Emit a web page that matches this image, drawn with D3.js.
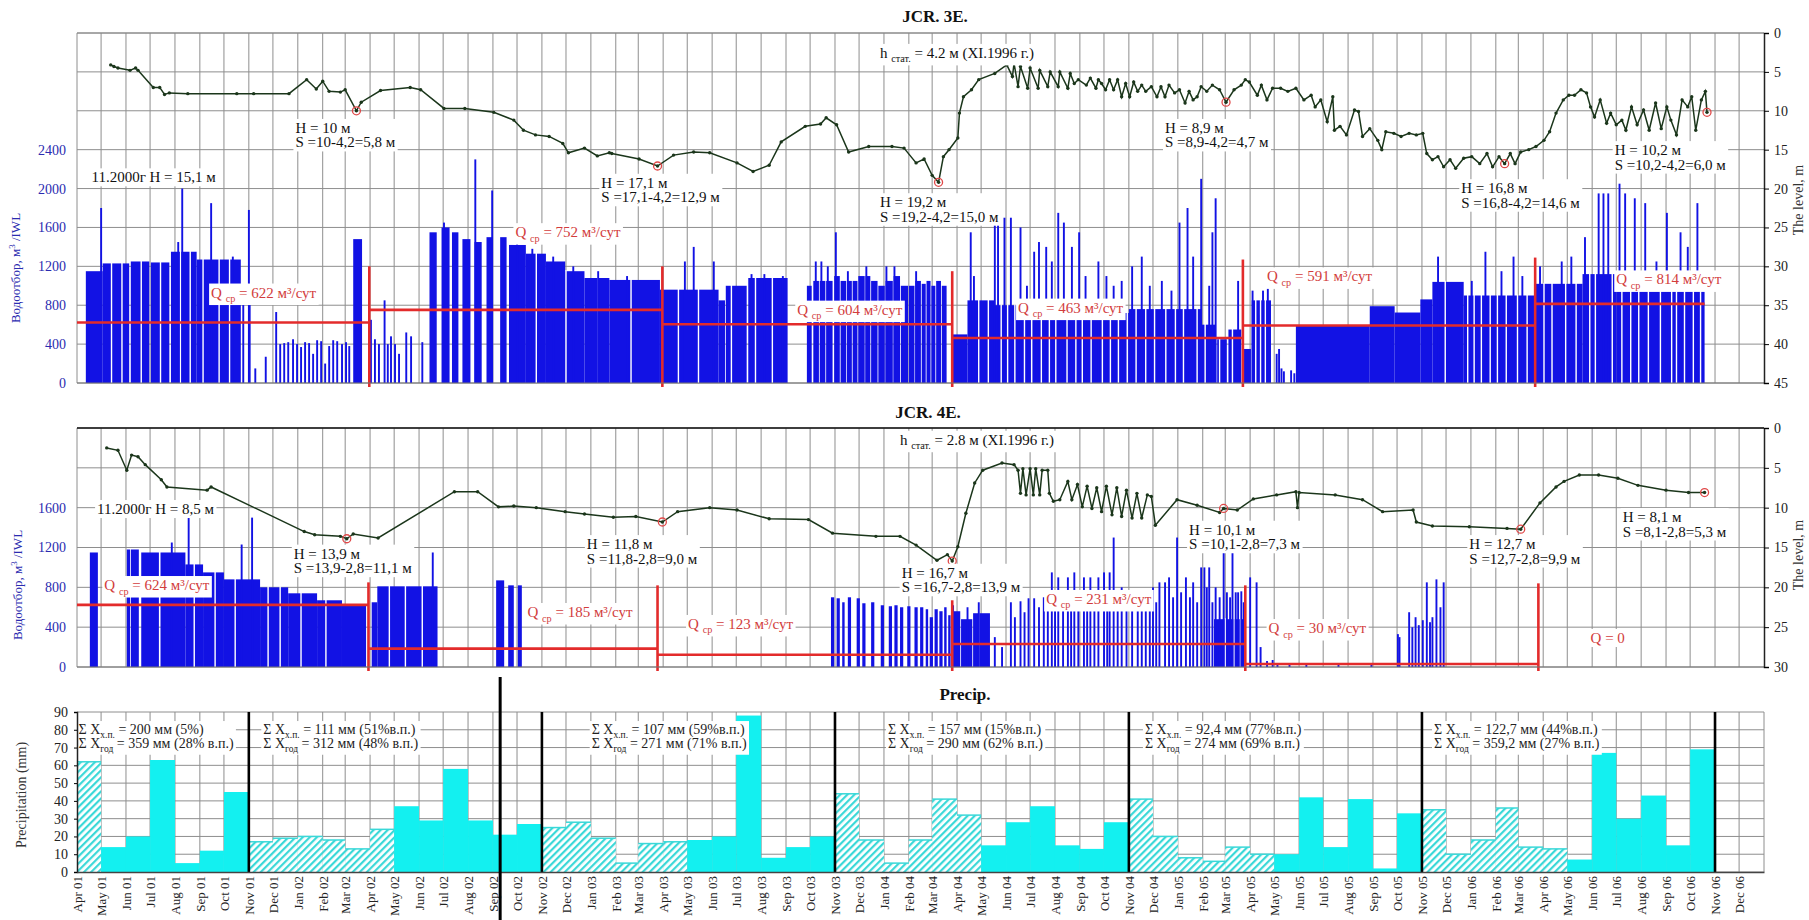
<!DOCTYPE html>
<html>
<head>
<meta charset="utf-8">
<script src="https://cdn.jsdelivr.net/npm/d3@7"></script>
<style>
  body { margin: 0; background: #fff; }
  svg { display: block; font-family: "Liberation Serif", "Times New Roman", serif; }
</style>
</head>
<body>
<svg id="chart" width="1809" height="920"></svg>
<script>
// ---------------- Well JCR. 3E : daily withdrawal, m3/day ----------------
const wd3E_blocks = [
  ["2001-04-12","2001-05-03",1150],["2001-05-03","2001-06-05",1230],["2001-06-07","2001-06-30",1250],
  ["2001-07-02","2001-07-25",1240],["2001-07-27","2001-08-28",1350],["2001-08-28","2001-10-22",1270],
  ["2002-03-11","2002-03-22",1480],
  ["2002-06-14","2002-06-23",1550],["2002-06-29","2002-07-09",1600],["2002-07-12","2002-07-20",1550],
  ["2002-07-25","2002-08-04",1480],["2002-08-09","2002-08-18",1450],["2002-08-24","2002-09-01",1500],
  ["2002-09-10","2002-09-18",1500],["2002-09-21","2002-10-12",1420],["2002-10-12","2002-11-06",1330],
  ["2002-11-06","2002-11-30",1250],["2002-11-30","2002-12-24",1150],["2002-12-24","2003-01-24",1080],
  ["2003-01-24","2003-03-28",1060],["2003-03-28","2003-06-09",960],["2003-06-09","2003-06-17",850],
  ["2003-06-18","2003-07-14",1000],["2003-07-16","2003-09-03",1080],
  ["2003-09-27","2003-10-03",1000],["2003-10-05","2003-10-12",1050],["2003-10-13","2003-10-20",1050],
  ["2003-10-21","2003-10-29",1050],["2003-10-31","2003-11-07",1100],["2003-11-08","2003-11-15",1050],
  ["2003-11-16","2003-11-22",1050],["2003-11-23","2003-11-29",1050],["2003-11-30","2003-12-08",1100],
  ["2003-12-09","2003-12-15",1100],["2003-12-16","2003-12-24",1050],["2003-12-25","2004-01-02",1000],
  ["2004-01-03","2004-01-12",1050],["2004-01-13","2004-01-21",1100],["2004-01-22","2004-01-31",1000],
  ["2004-02-01","2004-02-08",1000],["2004-02-09","2004-02-16",1050],["2004-02-17","2004-02-22",1020],
  ["2004-02-23","2004-02-28",1050],["2004-02-29","2004-03-05",1000],["2004-03-06","2004-03-12",1050],
  ["2004-03-13","2004-03-19",1000],
  ["2004-03-25","2004-04-14",500],["2004-04-14","2004-05-18",850],["2004-05-18","2004-07-01",800],
  ["2004-07-01","2004-09-01",760],["2004-09-01","2004-11-01",720],["2004-11-01","2005-01-30",760],
  ["2005-01-30","2005-02-17",600],["2005-02-19","2005-03-03",450],["2005-03-05","2005-03-21",550],
  ["2005-03-23","2005-04-02",350],["2005-04-03","2005-04-27",850],
  ["2005-05-28","2005-08-28",590],["2005-08-28","2005-09-28",790],["2005-09-28","2005-10-30",725],
  ["2005-10-30","2005-11-14",860],["2005-11-14","2005-12-23",1040],["2005-12-23","2006-03-21",900],
  ["2006-03-22","2006-05-20",1020],["2006-05-20","2006-07-01",1120],["2006-07-01","2006-09-01",1150],
  ["2006-09-01","2006-10-19",1050]
];
const wd3E_spikes = [
  ["2001-05-01",1800],["2001-08-05",1450],["2001-08-10",2000],["2001-09-15",1850],["2001-10-12",1300],
  ["2001-10-25",850],["2001-11-01",1780],["2001-11-02",850],["2001-11-09",150],["2001-11-22",270],
  ["2001-12-05",730],["2001-12-10",400],["2001-12-15",410],["2001-12-20",420],["2001-12-26",450],
  ["2001-12-31",400],["2002-01-05",370],["2002-01-10",420],["2002-01-15",410],["2002-01-20",300],
  ["2002-01-25",440],["2002-01-30",430],["2002-02-04",200],["2002-02-09",380],["2002-02-14",440],
  ["2002-02-19",430],["2002-02-25",400],["2002-03-02",420],["2002-03-06",380],
  ["2002-04-02",650],["2002-04-07",450],["2002-04-12",400],["2002-04-19",850],["2002-04-23",400],
  ["2002-04-27",480],["2002-05-02",400],["2002-05-07",300],["2002-05-16",520],["2002-05-22",480],
  ["2002-06-05",420],["2002-07-02",1650],["2002-08-10",2300],["2002-08-31",1980],
  ["2002-10-01",1450],["2002-10-20",1380],["2002-11-15",1300],["2002-12-10",1200],["2003-01-10",1150],
  ["2003-02-15",1100],["2003-04-28",1250],["2003-05-09",1400],["2003-06-03",1250],["2003-07-20",1120],
  ["2003-08-05",1120],["2003-08-28",1100],
  ["2003-10-08",1250],["2003-10-15",1250],["2003-10-23",1200],["2003-11-02",1550],["2003-11-17",1150],
  ["2003-12-10",1200],["2004-01-04",1200],["2004-01-14",1200],["2004-02-10",1150],
  ["2004-04-18",1550],["2004-04-22",1100],["2004-05-18",1700],["2004-05-22",1700],["2004-05-30",1700],
  ["2004-06-07",1700],["2004-06-19",1600],["2004-06-27",1000],["2004-07-06",1350],["2004-07-12",1450],
  ["2004-07-21",1400],["2004-07-28",1250],["2004-08-05",1750],["2004-08-12",1650],["2004-08-22",1400],
  ["2004-08-31",1550],["2004-09-08",1100],["2004-09-24",1250],["2004-10-04",1100],["2004-10-13",1000],
  ["2004-10-23",1050],["2004-11-05",1200],["2004-11-17",1300],["2004-11-27",1000],["2004-12-12",1050],
  ["2004-12-24",950],["2005-01-03",1650],["2005-01-13",1800],["2005-01-20",1300],["2005-01-30",2100],
  ["2005-02-09",1000],["2005-02-13",1550],["2005-02-17",1900],["2005-03-17",1050],
  ["2005-04-04",950],["2005-04-11",700],["2005-04-17",950],["2005-04-23",980],["2005-05-04",300],
  ["2005-05-07",350],["2005-05-10",150],["2005-05-13",120],["2005-05-22",130],["2005-05-26",100],
  ["2005-11-21",1300],["2006-01-02",1050],["2006-01-19",1350],["2006-02-08",1150],["2006-02-23",1300],
  ["2006-03-06",1100],["2006-03-28",1200],["2006-04-24",1250],["2006-05-06",1300],["2006-05-23",1500],
  ["2006-06-09",1950],["2006-06-15",1950],["2006-06-21",1950],["2006-07-05",2050],["2006-07-12",1950],
  ["2006-07-24",1900],["2006-08-06",1850],["2006-08-20",1250],["2006-09-02",1750],["2006-09-19",1550],
  ["2006-09-28",1400],["2006-10-10",1850]
];
const wd3E_gaps = [
  "2001-05-14","2001-05-27","2001-06-20","2001-07-14","2001-08-08","2001-08-20","2001-09-05","2001-09-25",
  "2001-10-08","2002-10-25","2002-12-01","2003-01-10","2003-02-20","2003-04-20","2003-05-15","2003-06-25",
  "2003-07-25","2003-08-15","2004-04-28","2004-05-10","2004-05-26","2004-06-03","2004-06-12","2004-06-24",
  "2004-07-03","2004-07-15","2004-07-25","2004-08-02","2004-08-16","2004-08-27","2004-09-04","2004-09-15",
  "2004-09-29","2004-10-09","2004-10-19","2004-10-30","2004-11-10","2004-11-22","2004-12-03","2004-12-17",
  "2004-12-29","2005-01-08","2005-01-25","2005-02-04","2005-02-22","2005-03-10","2005-04-08","2005-04-14",
  "2005-04-20","2005-11-30","2005-12-28","2006-01-05","2006-01-14","2006-01-25","2006-02-03","2006-02-14",
  "2006-02-28","2006-03-12","2006-04-02","2006-04-12","2006-04-29","2006-05-12","2006-05-29","2006-06-05",
  "2006-06-26","2006-07-08","2006-07-19","2006-07-29","2006-08-10","2006-08-25","2006-09-08","2006-09-14",
  "2006-09-24","2006-10-05","2006-10-14"
];
// yearly mean withdrawal, m3/day
const q3E_segments = [
  ["2001-04-01","2002-03-31",622],["2002-03-31","2003-03-31",752],["2003-03-31","2004-03-26",604],
  ["2004-03-26","2005-03-23",463],["2005-03-23","2006-03-22",591],["2006-03-22","2006-10-19",814]
];
const q3E_bounds = [["2002-03-31",1200],["2003-03-31",1200],["2004-03-26",1150],["2005-03-23",1270],["2006-03-22",1290]];
// water level, m below surface
const level3E = [
  ["2001-05-13",4.1],["2001-05-17",4.3],["2001-05-22",4.5],["2001-06-06",4.8],["2001-06-13",4.5],
  ["2001-06-16",4.8],["2001-07-05",7.0],["2001-07-13",7.0],["2001-07-19",7.9],["2001-07-25",7.7],
  ["2001-08-17",7.8],["2001-10-17",7.8],["2001-11-07",7.8],["2001-12-21",7.8],["2002-01-12",6.0],
  ["2002-01-24",7.2],["2002-02-01",6.2],["2002-02-09",7.5],["2002-02-23",7.6],["2002-03-01",7.3],
  ["2002-03-15",10.0],["2002-03-21",8.9],["2002-04-14",7.4],["2002-05-21",7.0],["2002-06-03",7.3],
  ["2002-07-02",9.7],["2002-07-28",9.7],["2002-09-02",10.2],["2002-09-27",11.2],["2002-10-09",12.5],
  ["2002-10-24",13.1],["2002-11-10",13.3],["2002-11-27",14.2],["2002-12-04",15.4],["2002-12-24",14.8],
  ["2003-01-09",15.8],["2003-01-24",15.4],["2003-01-27",15.5],["2003-03-02",16.2],["2003-03-25",17.1],
  ["2003-04-14",15.7],["2003-05-09",15.3],["2003-05-29",15.4],["2003-07-02",16.7],["2003-07-22",17.8],
  ["2003-08-11",17.0],["2003-08-26",14.0],["2003-09-25",12.0],["2003-10-14",11.7],["2003-10-21",10.9],
  ["2003-11-03",11.8],["2003-11-18",15.3],["2003-12-13",14.6],["2004-01-11",14.6],["2004-01-26",14.8],
  ["2004-02-10",16.7],["2004-02-20",16.2],["2004-03-01",18.3],["2004-03-09",19.2],["2004-03-15",15.9],
  ["2004-03-22",15.0],["2004-04-02",13.5],["2004-04-04",10.3],["2004-04-09",8.2],["2004-04-19",7.3],
  ["2004-04-28",6.0],["2004-05-18",5.2],["2004-06-02",4.1],["2004-06-09",5.6],["2004-06-11",3.9],
  ["2004-06-16",6.9],["2004-06-19",4.3],["2004-06-28",7.1],["2004-07-01",4.5],["2004-07-11",7.1],
  ["2004-07-13",4.8],["2004-07-23",6.9],["2004-07-26",5.0],["2004-08-05",6.9],["2004-08-07",5.0],
  ["2004-08-17",7.1],["2004-08-20",5.2],["2004-08-25",6.5],["2004-08-30",6.0],["2004-09-09",6.7],
  ["2004-09-14",5.8],["2004-09-21",7.1],["2004-09-24",6.0],["2004-09-28",6.5],["2004-10-03",7.3],
  ["2004-10-08",6.0],["2004-10-13",7.3],["2004-10-18",6.0],["2004-10-23",8.2],["2004-10-28",6.5],
  ["2004-11-02",8.2],["2004-11-07",6.3],["2004-11-12",7.5],["2004-11-17",6.7],["2004-11-22",7.5],
  ["2004-11-29",6.9],["2004-12-06",8.2],["2004-12-11",6.9],["2004-12-16",8.2],["2004-12-21",6.7],
  ["2004-12-28",7.7],["2005-01-03",7.3],["2005-01-10",9.0],["2005-01-15",7.5],["2005-01-20",8.6],
  ["2005-01-25",8.2],["2005-01-30",6.9],["2005-02-06",7.5],["2005-02-13",6.7],["2005-02-22",7.3],
  ["2005-03-02",8.9],["2005-03-12",7.3],["2005-03-21",6.7],["2005-03-26",6.0],["2005-03-31",6.3],
  ["2005-04-10",8.0],["2005-04-15",6.7],["2005-04-22",8.6],["2005-04-29",7.1],["2005-05-09",7.1],
  ["2005-05-18",7.5],["2005-05-28",7.1],["2005-06-07",8.6],["2005-06-16",8.0],["2005-06-21",9.5],
  ["2005-06-28",8.6],["2005-07-06",11.4],["2005-07-13",8.2],["2005-07-15",12.5],["2005-07-22",12.0],
  ["2005-07-30",13.1],["2005-08-09",9.9],["2005-08-14",10.1],["2005-08-19",13.3],["2005-08-28",12.3],
  ["2005-09-07",13.8],["2005-09-12",15.0],["2005-09-17",12.7],["2005-09-27",12.9],["2005-10-06",13.3],
  ["2005-10-16",12.9],["2005-10-25",13.1],["2005-11-02",12.9],["2005-11-07",15.5],["2005-11-14",16.3],
  ["2005-11-21",15.9],["2005-11-28",17.2],["2005-12-06",16.3],["2005-12-13",17.4],["2005-12-23",16.1],
  ["2006-01-02",15.9],["2006-01-12",16.8],["2006-01-21",15.5],["2006-01-28",17.2],["2006-02-05",15.9],
  ["2006-02-12",16.8],["2006-02-19",15.5],["2006-02-25",16.8],["2006-03-04",15.3],["2006-03-14",15.0],
  ["2006-03-23",14.6],["2006-04-02",13.8],["2006-04-09",12.7],["2006-04-17",10.3],["2006-04-26",8.6],
  ["2006-05-03",8.0],["2006-05-10",8.0],["2006-05-18",7.3],["2006-05-25",7.7],["2006-05-30",9.5],
  ["2006-06-04",10.8],["2006-06-11",8.6],["2006-06-19",11.6],["2006-06-24",10.3],["2006-07-01",11.8],
  ["2006-07-08",11.2],["2006-07-13",12.5],["2006-07-20",9.5],["2006-07-27",11.8],["2006-08-04",9.9],
  ["2006-08-11",12.5],["2006-08-19",9.0],["2006-08-26",12.3],["2006-09-02",9.5],["2006-09-07",11.2],
  ["2006-09-14",13.1],["2006-09-21",8.6],["2006-09-28",9.5],["2006-10-03",8.2],["2006-10-08",12.5],
  ["2006-10-15",8.6],["2006-10-20",7.5],["2006-10-22",10.2]
];
// seasonal minimum levels and the drawdown written under each
const min3E = [["2002-03-15",10.0],["2003-03-25",17.1],["2004-03-09",19.2],["2005-03-02",8.9],["2006-02-12",16.8],["2006-10-22",10.2]];
const min3E_S = ["S =10-4,2=5,8 м","S =17,1-4,2=12,9 м","S =19,2-4,2=15,0 м","S =8,9-4,2=4,7 м","S =16,8-4,2=14,6 м","S =10,2-4,2=6,0 м"];

// ---------------- Well JCR. 4E ----------------
const wd4E_blocks = [
  ["2001-04-17","2001-04-27",1150],["2001-06-02","2001-06-06",1180],["2001-06-07","2001-06-17",1180],
  ["2001-06-20","2001-07-12",1150],["2001-07-14","2001-08-14",1150],["2001-08-14","2001-09-05",1030],
  ["2001-09-05","2001-10-01",950],["2001-10-01","2001-11-15",880],["2001-11-15","2001-12-20",800],
  ["2001-12-20","2002-01-25",740],["2002-01-25","2002-02-25",670],["2002-02-25","2002-03-27",620],
  ["2002-04-03","2002-04-10",650],["2002-04-10","2002-06-24",810],
  ["2002-09-05","2002-09-15",870],["2002-09-20","2002-09-27",820],["2002-10-02","2002-10-07",820],
  ["2003-10-27","2003-10-31",700],["2003-11-03","2003-11-07",690],["2003-11-10","2003-11-13",650],
  ["2003-11-17","2003-11-21",700],["2003-11-28","2003-12-02",690],["2003-12-05","2003-12-09",640],
  ["2003-12-16","2003-12-20",650],["2003-12-28","2004-01-01",620],["2004-01-07","2004-01-11",610],
  ["2004-01-14","2004-01-18",620],["2004-01-21","2004-01-25",600],["2004-01-30","2004-02-03",610],
  ["2004-02-08","2004-02-12",600],["2004-02-15","2004-02-19",600],["2004-02-22","2004-02-25",580],
  ["2004-02-27","2004-03-02",500],["2004-03-04","2004-03-08",580],["2004-03-10","2004-03-14",560],
  ["2004-03-16","2004-03-19",600],["2004-03-21","2004-03-24",520],
  ["2004-03-25","2004-04-05",560],["2004-04-06","2004-04-20",480],["2004-04-21","2004-05-12",540],
  ["2005-02-15","2005-03-25",480]
];
const wd4E_spikes = [
  ["2001-07-28",1250],["2001-08-18",1500],["2001-10-23",1230],["2001-11-05",1500],["2002-06-18",1150],
  ["2004-03-27",620],["2004-04-14",600],["2004-04-28",650],
  ["2004-05-18",300],["2004-05-27",200],["2004-06-07",650],["2004-06-12",500],["2004-06-19",660],
  ["2004-06-24",550],["2004-06-29",690],["2004-07-06",690],["2004-07-12",600],["2004-07-18",700],
  ["2004-07-23",650],["2004-07-28",950],["2004-08-01",700],["2004-08-05",900],["2004-08-11",700],
  ["2004-08-17",900],["2004-08-21",650],["2004-08-25",950],["2004-08-30",700],["2004-09-06",900],
  ["2004-09-10",650],["2004-09-14",900],["2004-09-19",700],["2004-09-24",900],["2004-10-01",950],
  ["2004-10-05",700],["2004-10-08",950],["2004-10-13",1300],["2004-10-18",650],["2004-10-23",800],
  ["2004-10-29",600],["2004-11-05",700],["2004-11-12",750],["2004-11-17",600],["2004-11-22",700],
  ["2004-11-27",600],["2004-12-01",800],["2004-12-05",650],["2004-12-09",850],["2004-12-16",850],
  ["2004-12-21",900],["2004-12-26",700],["2004-12-31",1300],["2005-01-05",750],["2005-01-11",900],
  ["2005-01-16",700],["2005-01-20",850],["2005-01-25",650],["2005-01-30",1000],["2005-02-03",1000],
  ["2005-02-06",800],["2005-02-09",1000],["2005-02-13",650],["2005-02-17",800],["2005-02-22",700],
  ["2005-02-27",1350],["2005-03-03",750],["2005-03-07",700],["2005-03-10",1400],["2005-03-14",750],
  ["2005-03-17",750],["2005-03-21",760],["2005-03-24",650],["2005-04-01",900],["2005-04-09",850],
  ["2005-04-14",200],["2005-04-22",60],["2005-04-29",70],["2005-05-05",40],["2005-05-20",30],
  ["2005-06-10",40],["2005-07-20",30],["2005-08-30",40],["2005-10-02",330],["2005-10-04",300],
  ["2005-10-16",550],["2005-10-20",400],["2005-10-24",500],["2005-10-28",420],["2005-11-02",470],
  ["2005-11-07",850],["2005-11-11",450],["2005-11-14",500],["2005-11-19",880],["2005-11-24",600],
  ["2005-11-28",850]
];
const wd4E_gaps = [
  "2001-06-18","2001-07-13","2001-08-25","2001-09-20","2001-10-15","2001-11-25","2001-12-10","2002-01-05",
  "2002-02-05","2002-04-25","2002-05-15","2002-06-05","2004-04-28","2005-03-01","2005-03-12","2005-03-20"
];
const q4E_segments = [
  ["2001-04-01","2002-03-30",624],["2002-03-30","2003-03-25",185],["2003-03-25","2004-03-26",123],
  ["2004-03-26","2005-03-26",231],["2005-03-26","2006-03-26",30],["2006-03-26","2006-10-19",0]
];
const q4E_bounds = [["2002-03-30",850],["2003-03-25",820],["2004-03-26",670],["2005-03-26",820],["2006-03-26",840]];
const level4E = [
  ["2001-05-08",2.5],["2001-05-22",2.8],["2001-06-02",5.3],["2001-06-08",3.4],["2001-06-16",3.6],
  ["2001-06-25",4.6],["2001-07-15",6.5],["2001-07-22",7.4],["2001-09-10",7.8],["2001-09-15",7.4],
  ["2002-01-09",13.0],["2002-01-22",13.4],["2002-02-23",13.6],["2002-03-03",13.9],["2002-03-11",13.3],
  ["2002-04-11",13.8],["2002-07-15",8.0],["2002-08-13",8.0],["2002-09-08",9.9],["2002-09-27",9.8],
  ["2002-10-25",10.0],["2002-11-30",10.5],["2002-12-24",10.8],["2003-01-29",11.2],["2003-02-26",11.1],
  ["2003-03-31",11.8],["2003-04-19",10.5],["2003-05-29",10.0],["2003-07-02",10.3],["2003-08-11",11.4],
  ["2003-09-29",11.5],["2003-10-29",13.2],["2003-12-22",13.6],["2004-01-21",13.6],["2004-02-10",14.7],
  ["2004-03-07",16.6],["2004-03-20",15.9],["2004-03-26",16.7],["2004-04-02",14.9],["2004-04-12",10.7],
  ["2004-04-23",6.9],["2004-05-03",5.3],["2004-05-27",4.4],["2004-06-11",4.6],["2004-06-16",5.3],
  ["2004-06-19",8.2],["2004-06-22",5.1],["2004-06-26",8.4],["2004-07-01",5.1],["2004-07-05",8.4],
  ["2004-07-08",5.1],["2004-07-13",8.4],["2004-07-16",5.3],["2004-07-23",5.3],["2004-07-25",8.2],
  ["2004-07-30",9.2],["2004-08-07",9.0],["2004-08-17",6.7],["2004-08-22",9.0],["2004-08-29",7.1],
  ["2004-09-04",9.9],["2004-09-10",7.3],["2004-09-16",10.1],["2004-09-22",7.5],["2004-09-28",10.5],
  ["2004-10-04",7.3],["2004-10-11",10.9],["2004-10-17",7.5],["2004-10-23",11.1],["2004-10-29",7.8],
  ["2004-11-05",11.3],["2004-11-11",8.2],["2004-11-17",11.3],["2004-11-24",8.4],["2004-11-29",8.6],
  ["2004-12-04",12.2],["2004-12-31",9.0],["2005-01-25",9.7],["2005-02-22",10.6],["2005-02-27",10.1],
  ["2005-03-16",10.3],["2005-04-05",8.9],["2005-05-04",8.4],["2005-05-28",8.0],["2005-05-30",10.0],
  ["2005-06-01",8.1],["2005-07-16",8.4],["2005-08-19",9.0],["2005-09-13",10.5],["2005-10-21",10.3],
  ["2005-10-25",11.8],["2005-11-14",12.3],["2005-12-30",12.4],["2006-02-15",12.6],["2006-03-04",12.7],
  ["2006-03-28",9.4],["2006-04-17",7.4],["2006-04-27",6.7],["2006-05-16",5.9],["2006-06-09",5.9],
  ["2006-07-03",6.3],["2006-07-28",7.2],["2006-09-01",7.8],["2006-09-29",8.1],["2006-10-19",8.1]
];
const min4E = [["2002-03-03",13.9],["2003-03-31",11.8],["2004-03-26",16.7],["2005-02-27",10.1],["2006-03-04",12.7],["2006-10-19",8.1]];
const min4E_S = ["S =13,9-2,8=11,1 м","S =11,8-2,8=9,0 м","S =16,7-2,8=13,9 м","S =10,1-2,8=7,3 м","S =12,7-2,8=9,9 м","S =8,1-2,8=5,3 м"];

// ---------------- Monthly precipitation, mm (Apr 2001 .. Oct 2006) ----------------
const precipValues = [
  62,14,20,63,5,12,45,
  17,19,20,18,13,24,37,29,58,29,21,27,
  25,28,19,5,16,17,18,20,88,8,14,20,
  44,18,5,18,41,32,15,28,37,15,13,28,
  41,20,8,6,14,10,10,42,14,41,2,33,
  35,10,18,36,14,13,7,67,30,43,15,69
];
const precipSums = [
  ["Σ X_{х.п.} = 200 мм (5%)","Σ X_{год} = 359 мм (28% в.п.)"],
  ["Σ X_{х.п.} = 111 мм (51%в.п.)","Σ X_{год} = 312 мм (48% в.п.)"],
  ["Σ X_{х.п.} = 107 мм (59%в.п.)","Σ X_{год} = 271 мм (71% в.п.)"],
  ["Σ X_{х.п.} = 157 мм (15%в.п.)","Σ X_{год} = 290 мм (62% в.п.)"],
  ["Σ X_{х.п.} = 92,4 мм (77%в.п.)","Σ X_{год} = 274 мм (69% в.п.)"],
  ["Σ X_{х.п.} = 122,7 мм (44%в.п.)","Σ X_{год} = 359,2 мм (27% в.п.)"]
];
const hydroYearStarts = ["2001-11-01","2002-11-01","2003-11-01","2004-11-01","2005-11-01","2006-11-01"];
const sheetJoins = ["2002-09-10"];

// tick values
const wdTicks3E = [0,400,800,1200,1600,2000,2400];
const wdTicks4E = [0,400,800,1200,1600];
const lvTicks3E = [0,5,10,15,20,25,30,35,40,45];
const lvTicks4E = [0,5,10,15,20,25,30];
const precipTicks = [0,10,20,30,40,50,60,70,80,90];

// ---------------- label placement (data coordinates) ----------------
const minLabelAt3E = [["2001-12-29",12.85],["2003-01-14",19.9],["2003-12-27",22.4],["2004-12-16",12.85],["2005-12-20",20.6],["2006-06-29",15.7]];
const minLabelAt4E = [["2001-12-27",16.4],["2002-12-27",15.2],["2004-01-23",18.8],["2005-01-15",13.4],["2005-12-30",15.2],["2006-07-09",11.8]];
const qLabelAt3E = [["2001-09-15",879],["2002-09-29",1500],["2003-09-15",703],["2004-06-16",724],["2005-04-22",1045],["2006-07-01",1014]];
const qLabelAt4E = [["2001-05-05",773],["2002-10-14",502],["2003-05-02",382],["2004-07-21",633],["2005-04-24",341],["2006-05-30",241]];
const precipSumAt = [["2001-04-03",77.6],["2001-11-19",77.6],["2003-01-02",77.6],["2004-01-06",77.6],["2004-11-21",77.6],["2005-11-16",77.6]];

// =====================================================================
const parse = d3.timeParse("%Y-%m-%d");
const svg = d3.select("#chart");
const BLUE = "#1212e4", RED = "#e32b2b", QTEXT = "#d23c3c", LEVEL = "#1b361b", GRID = "#8e8e8e";
const x = d3.scaleTime().domain([new Date(2001,3,1), new Date(2007,0,1)]).range([77,1764]);
const X0 = x.range()[0], X1 = x.range()[1];
const gridMonths = d3.timeMonth.range(new Date(2001,4,1), new Date(2007,0,1));
const fmtNum = v => (Number.isInteger(v) ? String(v) : v.toFixed(1).replace(".", ","));

// text with _{subscript} parts
function richLine(g, px, py, str, size, color) {
  const t = g.append("text").attr("x", px).attr("y", py).attr("font-size", size).attr("fill", color);
  const parts = str.split(/(_\{[^}]*\})/).filter(s => s.length);
  let shifted = false;
  parts.forEach(p => {
    const ts = t.append("tspan");
    if (p.startsWith("_{")) {
      ts.text(p.slice(2, -1)).attr("font-size", size * 0.68).attr("dy", size * 0.3);
      shifted = true;
    } else {
      ts.text(p);
      if (shifted) { ts.attr("dy", -size * 0.3); shifted = false; }
    }
  });
  return t;
}
function boxedText(parent, px, py, lines, size, color, lh) {
  const g = parent.append("g");
  const bg = g.append("rect").attr("fill", "#fff");
  lines.forEach((ln, i) => richLine(g, px, py + i * lh, ln, size, color));
  const bb = g.node().getBBox();
  bg.attr("x", bb.x - 2).attr("y", bb.y - 1).attr("width", bb.width + 4).attr("height", bb.height + 2);
  return g;
}

function flowPanel(o) {
  const g = svg.append("g");
  const yW = d3.scaleLinear().domain([0, o.wdMax]).range([o.bottom, o.top]);
  const yL = d3.scaleLinear().domain([0, o.lvMax]).range([o.top, o.bottom]);

  // grid
  g.append("g").selectAll("line").data(gridMonths).join("line")
    .attr("x1", d => x(d)).attr("x2", d => x(d)).attr("y1", o.top).attr("y2", o.bottom)
    .attr("stroke", GRID).attr("stroke-width", 1);
  g.append("g").selectAll("line").data(o.lvTicks).join("line")
    .attr("x1", X0).attr("x2", X1).attr("y1", d => yL(d)).attr("y2", d => yL(d))
    .attr("stroke", GRID).attr("stroke-width", 1);
  g.append("line").attr("x1", X0).attr("x2", X0).attr("y1", o.top).attr("y2", o.bottom).attr("stroke", GRID);
  g.append("line").attr("x1", X0).attr("x2", X1).attr("y1", o.top).attr("y2", o.top)
    .attr("stroke", o.topStroke).attr("stroke-width", o.topWidth);

  // withdrawal
  const blue = g.append("g").attr("fill", BLUE);
  blue.selectAll("rect.b").data(o.blocks).join("rect").attr("class", "b")
    .attr("x", d => x(parse(d[0]))).attr("width", d => Math.max(1, x(parse(d[1])) - x(parse(d[0]))))
    .attr("y", d => yW(d[2])).attr("height", d => yW(0) - yW(d[2]));
  const gapRows = o.gaps.map(s => {
    const t = parse(s);
    const blk = o.blocks.find(b => parse(b[0]) <= t && t <= parse(b[1]));
    return blk ? [t, blk[2]] : null;
  }).filter(Boolean);
  g.append("g").attr("fill", "#fff").selectAll("rect").data(gapRows).join("rect")
    .attr("x", d => x(d[0]) - 0.7).attr("width", 1.4)
    .attr("y", d => yW(d[1]) - 1).attr("height", d => yW(0) - yW(d[1]) + 1);
  g.append("g").attr("fill", BLUE).selectAll("rect").data(o.spikes).join("rect")
    .attr("x", d => x(parse(d[0])) - 0.9).attr("width", 1.9)
    .attr("y", d => yW(d[1])).attr("height", d => yW(0) - yW(d[1]));

  // yearly mean withdrawal
  const red = g.append("g").attr("stroke", RED).attr("stroke-width", 2.6).attr("fill", "none");
  red.selectAll("line.h").data(o.qSegs.filter(d => d[2] > 0)).join("line").attr("class", "h")
    .attr("x1", d => x(parse(d[0]))).attr("x2", d => x(parse(d[1])))
    .attr("y1", d => yW(d[2])).attr("y2", d => yW(d[2]));
  red.selectAll("line.v").data(o.qBounds).join("line").attr("class", "v")
    .attr("x1", d => x(parse(d[0]))).attr("x2", d => x(parse(d[0])))
    .attr("y1", o.bottom + 4).attr("y2", d => yW(d[1]));

  // bottom line
  g.append("line").attr("x1", X0).attr("x2", X1).attr("y1", o.bottom).attr("y2", o.bottom).attr("stroke", "#777");

  // level
  const pts = o.level.map(d => ({ t: parse(d[0]), v: d[1] }));
  g.append("path").datum(pts)
    .attr("d", d3.line().x(d => x(d.t)).y(d => yL(d.v)))
    .attr("fill", "none").attr("stroke", LEVEL).attr("stroke-width", 1.5);
  g.append("g").attr("fill", LEVEL).selectAll("circle").data(pts).join("circle")
    .attr("cx", d => x(d.t)).attr("cy", d => yL(d.v)).attr("r", 1.7);
  g.append("g").selectAll("circle").data(o.mins).join("circle")
    .attr("cx", d => x(parse(d[0]))).attr("cy", d => yL(d[1])).attr("r", 4)
    .attr("fill", "none").attr("stroke", "#e04848").attr("stroke-width", 1.3);

  // labels
  const lab = g.append("g");
  o.mins.forEach((m, i) => {
    const at = o.minLabelAt[i];
    boxedText(lab, x(parse(at[0])), yL(at[1]), ["H = " + fmtNum(m[1]) + " м", o.minS[i]], 15, "#111", 14.5);
  });
  o.notes.forEach(n => boxedText(lab, x(parse(n[0])), yL(n[1]), [n[2]], 15, "#111", 14.5));
  o.qSegs.forEach((q, i) => {
    const at = o.qLabelAt[i];
    const txt = q[2] > 0 ? "Q _{ср} = " + q[2] + " м³/сут" : "Q = " + q[2];
    boxedText(lab, x(parse(at[0])), yW(at[1]), [txt], 15, QTEXT, 15);
  });

  // axes
  const ax = g.append("g").attr("transform", `translate(${X0},0)`)
    .call(d3.axisLeft(yW).tickValues(o.wdTicks).tickFormat(d3.format("d")).tickSize(0).tickPadding(11));
  ax.select(".domain").remove();
  ax.selectAll("text").attr("fill", "#2b2bb0").attr("font-size", 14).attr("font-family", "Liberation Serif");
  const ar = g.append("g").attr("transform", `translate(${X1},0)`)
    .call(d3.axisRight(yL).tickValues(o.lvTicks).tickSize(5).tickPadding(5));
  ar.select(".domain").attr("stroke", "#222").attr("stroke-width", 1.5);
  ar.selectAll("text").attr("fill", "#222").attr("font-size", 14).attr("font-family", "Liberation Serif");

  // titles
  g.append("text").attr("x", o.titleX).attr("y", o.titleY).attr("text-anchor", "middle")
    .attr("font-size", 17).attr("font-weight", "bold").attr("fill", "#111").text(o.title);
  const lt = g.append("text").attr("transform", `translate(${o.wdLabelX},${o.wdLabelY}) rotate(-90)`)
    .attr("text-anchor", "middle").attr("font-size", 13).attr("fill", "#2b2bb0");
  lt.append("tspan").text("Водоотбор, м");
  lt.append("tspan").text("3").attr("font-size", 9).attr("dy", -5);
  lt.append("tspan").text(" /IWL").attr("dy", 5);
  g.append("text").attr("transform", `translate(1803,${o.lvLabelY}) rotate(-90)`)
    .attr("text-anchor", "middle").attr("font-size", 14).attr("fill", "#333").text("The level, m");
}

flowPanel({
  top: 33, bottom: 383, wdMax: 3600, lvMax: 45, wdTicks: wdTicks3E, lvTicks: lvTicks3E,
  blocks: wd3E_blocks, spikes: wd3E_spikes, gaps: wd3E_gaps,
  qSegs: q3E_segments, qBounds: q3E_bounds, qLabelAt: qLabelAt3E,
  level: level3E, mins: min3E, minS: min3E_S, minLabelAt: minLabelAt3E,
  notes: [["2001-04-19",19.2,"11.2000г H = 15,1 м"],["2003-12-27",3.2,"h _{стат.} = 4.2 м (XI.1996 г.)"]],
  topStroke: "#888", topWidth: 1,
  title: "JCR. 3E.", titleX: 935, titleY: 22, wdLabelX: 20, wdLabelY: 268, lvLabelY: 200
});
flowPanel({
  top: 428, bottom: 667, wdMax: 2400, lvMax: 30, wdTicks: wdTicks4E, lvTicks: lvTicks4E,
  blocks: wd4E_blocks, spikes: wd4E_spikes, gaps: wd4E_gaps,
  qSegs: q4E_segments, qBounds: q4E_bounds, qLabelAt: qLabelAt4E,
  level: level4E, mins: min4E, minS: min4E_S, minLabelAt: minLabelAt4E,
  notes: [["2001-04-26",10.8,"11.2000г H = 8,5 м"],["2004-01-21",2.1,"h _{стат.} = 2.8 м (XI.1996 г.)"]],
  topStroke: "#111", topWidth: 1.6,
  title: "JCR. 4E.", titleX: 928, titleY: 418, wdLabelX: 22, wdLabelY: 585, lvLabelY: 555
});

// ---------------- precipitation panel ----------------
(function () {
  const top = 712, bottom = 872;
  const yP = d3.scaleLinear().domain([0, 90]).range([bottom, top]);
  const months = d3.timeMonth.range(new Date(2001,3,1), new Date(2001,3 + precipValues.length,1));
  const rows = months.map((m, i) => ({ m, next: d3.timeMonth.offset(m, 1), v: precipValues[i],
    cold: [10,11,0,1,2,3].includes(m.getMonth()) }));
  const g = svg.append("g");
  const defs = svg.append("defs");
  const pat = defs.append("pattern").attr("id", "hatch").attr("patternUnits", "userSpaceOnUse")
    .attr("width", 5).attr("height", 5).attr("patternTransform", "rotate(45)");
  pat.append("rect").attr("width", 5).attr("height", 5).attr("fill", "#fff");
  pat.append("rect").attr("width", 2.2).attr("height", 5).attr("fill", "#3ad8d8");

  g.append("g").selectAll("line").data(gridMonths).join("line")
    .attr("x1", d => x(d)).attr("x2", d => x(d)).attr("y1", top).attr("y2", bottom)
    .attr("stroke", GRID);
  g.append("g").selectAll("line").data(precipTicks).join("line")
    .attr("x1", X0).attr("x2", X1).attr("y1", d => yP(d)).attr("y2", d => yP(d)).attr("stroke", GRID);
  g.append("line").attr("x1", X1).attr("x2", X1).attr("y1", top).attr("y2", bottom).attr("stroke", GRID);

  g.append("g").selectAll("rect").data(rows).join("rect")
    .attr("x", d => x(d.m)).attr("width", d => x(d.next) - x(d.m))
    .attr("y", d => yP(d.v)).attr("height", d => yP(0) - yP(d.v))
    .attr("fill", d => d.cold ? "url(#hatch)" : "#13f0f0");
  g.append("g").selectAll("line").data(rows.filter(d => d.cold)).join("line")
    .attr("x1", d => x(d.m)).attr("x2", d => x(d.next)).attr("y1", d => yP(d.v)).attr("y2", d => yP(d.v))
    .attr("stroke", "#3ad8d8").attr("stroke-width", 1.5);

  g.append("g").selectAll("line").data(hydroYearStarts).join("line")
    .attr("x1", d => x(parse(d))).attr("x2", d => x(parse(d))).attr("y1", top).attr("y2", bottom)
    .attr("stroke", "#000").attr("stroke-width", 2.6);

  precipSums.forEach((lines, i) => {
    const at = precipSumAt[i];
    boxedText(g, x(parse(at[0])), yP(at[1]), lines, 14, "#222", 13.5);
  });

  const ay = g.append("g").attr("transform", `translate(${X0},0)`)
    .call(d3.axisLeft(yP).tickValues(precipTicks).tickSize(3).tickPadding(6));
  ay.select(".domain").attr("stroke", "#222").attr("stroke-width", 1.5);
  ay.selectAll("text").attr("font-size", 14).attr("fill", "#222").attr("font-family", "Liberation Serif");

  const labelMonths = d3.timeMonth.range(new Date(2001,3,1), new Date(2007,0,1));
  const axb = g.append("g").attr("transform", `translate(0,${bottom})`)
    .call(d3.axisBottom(x).tickValues(labelMonths).tickFormat(d3.timeFormat("%b %y")).tickSize(0));
  axb.select(".domain").attr("stroke", "#444").attr("stroke-width", 1.5);
  axb.selectAll("text").attr("transform", "rotate(-90)").attr("text-anchor", "end")
    .attr("x", -4).attr("y", 0).attr("dy", "0.35em")
    .attr("font-size", 13).attr("fill", "#222").attr("font-family", "Liberation Serif");

  g.append("text").attr("x", 965).attr("y", 700).attr("text-anchor", "middle")
    .attr("font-size", 17).attr("font-weight", "bold").attr("fill", "#111").text("Precip.");
  g.append("text").attr("transform", "translate(26,795) rotate(-90)").attr("text-anchor", "middle")
    .attr("font-size", 14).attr("fill", "#333").text("Precipitation (mm)");

  svg.append("g").selectAll("line").data(sheetJoins).join("line")
    .attr("x1", d => x(parse(d))).attr("x2", d => x(parse(d))).attr("y1", 677).attr("y2", 920)
    .attr("stroke", "#000").attr("stroke-width", 3);
})();
</script>
</body>
</html>
